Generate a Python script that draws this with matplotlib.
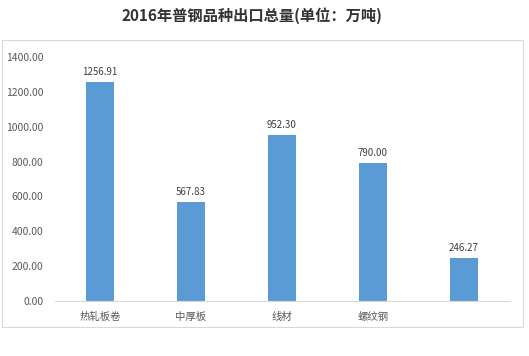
import matplotlib
matplotlib.use("Agg")
import matplotlib.pyplot as plt
from matplotlib.patches import Rectangle

plt.rcParams['font.family'] = ['Noto Sans CJK SC', 'DejaVu Sans']

categories = ["热轧板卷", "中厚板", "线材", "螺纹钢", ""]
values = [1256.91, 567.83, 952.30, 790.00, 246.27]
yticks = [0, 200, 400, 600, 800, 1000, 1200, 1400]

W, H = 529, 356
fig = plt.figure(figsize=(W / 100, H / 100), dpi=100)
fig.patch.set_facecolor("white")

# outer frame
fig.patches.append(Rectangle((2 / W, 1 - 327 / H), 521 / W, 287 / H,
                             transform=fig.transFigure, fill=False,
                             edgecolor="#d9d9d9", linewidth=0.8))

ax = fig.add_axes([54.5 / W, 1 - 301 / H, 455 / W, 244 / H])
x = range(len(categories))
bars = ax.bar(x, values, width=0.31, color="#5b9bd5")
for xi, v in zip(x, values):
    ax.text(xi, v + 30, f"{v:.2f}", ha="center", va="bottom",
            fontsize=7, color="#404040")

ax.set_xlim(-0.5, len(categories) - 0.5)
ax.set_ylim(0, 1400)
ax.set_yticks(yticks)
ax.set_yticklabels([f"{t:.2f}" for t in yticks], fontsize=7.5, color="#595959")
ax.set_xticks(list(x))
ax.set_xticklabels(categories, fontsize=7.5, color="#595959")
ax.tick_params(axis="both", length=0)
ax.tick_params(axis="y", pad=8)
ax.tick_params(axis="x", pad=8)
for s in ["top", "right", "left"]:
    ax.spines[s].set_visible(False)
ax.spines["bottom"].set_color("#d9d9d9")
ax.spines["bottom"].set_linewidth(0.8)

fig.text(252 / W, 1 - 16 / H, "2016年普钢品种出口总量(单位：万吨)",
         ha="center", va="center", fontsize=11, fontweight="bold", color="#333333")

fig.savefig("out.png", dpi=100)
